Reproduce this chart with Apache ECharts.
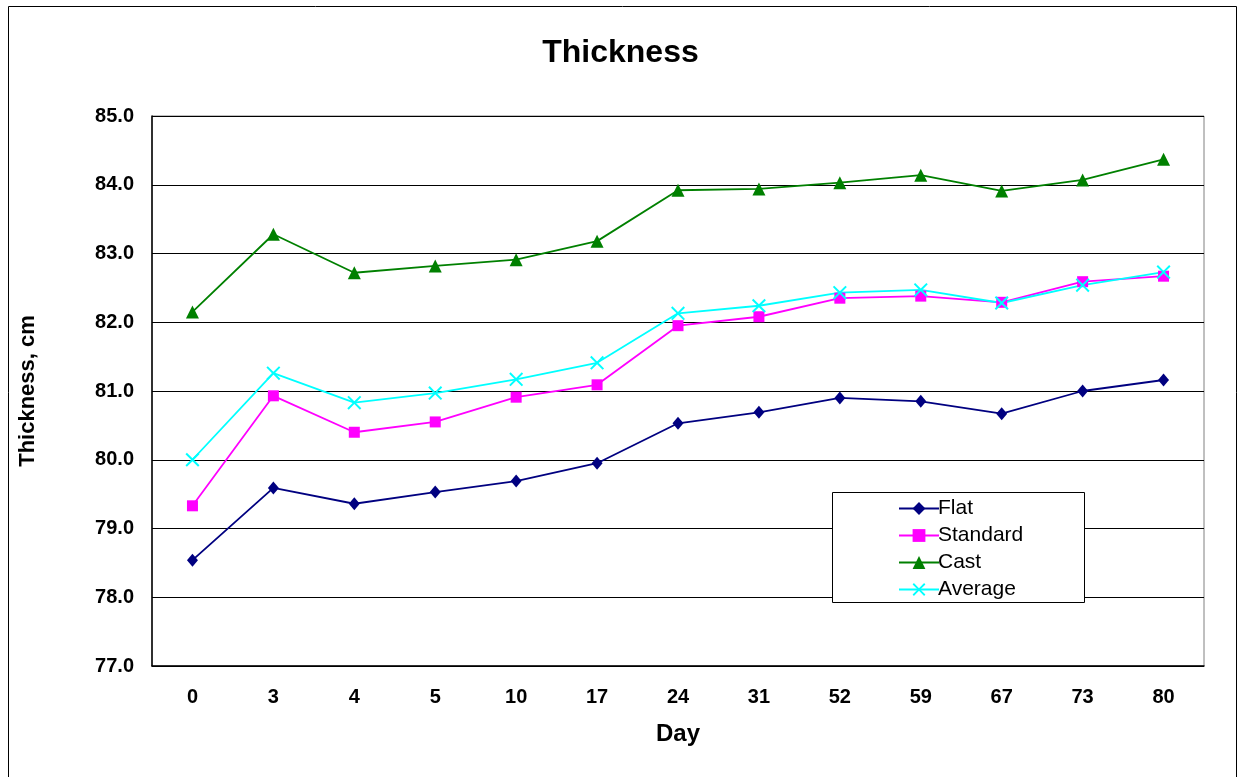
<!DOCTYPE html>
<html>
<head>
<meta charset="utf-8">
<script src="https://cdn.jsdelivr.net/npm/echarts@6/dist/echarts.min.js"></script>
<style>
html,body{margin:0;padding:0;background:#fff;}
#chart{width:1241px;height:777px;}
</style>
</head>
<body>
<div id="chart"></div>
<script>
const days = ['0','3','4','5','10','17','24','31','52','59','67','73','80'];
const flat = [78.54,79.59,79.36,79.53,79.69,79.95,80.53,80.69,80.90,80.85,80.67,81.00,81.16];
const standard = [79.33,80.93,80.40,80.55,80.91,81.09,81.95,82.08,82.35,82.38,82.29,82.59,82.67];
const cast = [82.15,83.28,82.72,82.82,82.91,83.18,83.92,83.94,84.03,84.14,83.91,84.07,84.37];
const average = [80.00,81.26,80.83,80.97,81.17,81.41,82.13,82.24,82.43,82.47,82.28,82.54,82.73];

const FONT = '"Liberation Sans", Arial, sans-serif';
const crossPath = 'path://M0,1L1,0L5,4L9,0L10,1L6,5L10,9L9,10L5,6L1,10L0,9L4,5Z';

const chart = echarts.init(document.getElementById('chart'), null, {renderer:'canvas'});
function mk(name, data, color, symbol, size) {
  return {
    name, type:'line', data, symbol, symbolSize:size, showSymbol:true,
    lineStyle:{color, width:1.8}, itemStyle:{color}, animation:false,
    emphasis:{disabled:true}
  };
}
chart.setOption({
  animation:false,
  backgroundColor:'#fff',
  textStyle:{fontFamily:FONT},
  title:{text:'Thickness', left:'center', top:32, textStyle:{fontFamily:FONT, fontSize:32, fontWeight:'bold', color:'#000'}},
  graphic:[
    {type:'rect', shape:{x:8.5,y:6.5,width:1228,height:790}, style:{fill:'none', stroke:'#000', lineWidth:1}, z:-1},
    {type:'rect', shape:{x:832.5,y:492.5,width:252,height:110}, style:{fill:'#fff', stroke:'#000', lineWidth:1}, z:10}
  ],
  legend:{
    orient:'vertical', left:893, top:493, itemWidth:40, itemHeight:16, itemGap:6, z:20,
    textStyle:{fontFamily:FONT, fontSize:21, color:'#000', padding:[0,0,0,-6]},
    data:['Flat','Standard','Cast','Average']
  },
  grid:{left:152, right:37, top:116, bottom:111, show:true, borderColor:'#808080', borderWidth:1, backgroundColor:'transparent'},
  xAxis:{
    type:'category', data:days, boundaryGap:true,
    name:'Day', nameLocation:'middle', nameGap:56,
    nameTextStyle:{fontFamily:FONT, fontSize:24, fontWeight:'bold', color:'#000'},
    axisLine:{lineStyle:{color:'#000', width:1.5}},
    axisTick:{inside:true, length:7, lineStyle:{color:'#000'}},
    axisLabel:{fontFamily:FONT, fontSize:20, fontWeight:'bold', color:'#000', margin:21},
    splitLine:{show:false}
  },
  yAxis:{
    type:'value', min:77, max:85, interval:1,
    name:'Thickness, cm', nameLocation:'middle', nameGap:113,
    nameTextStyle:{fontFamily:FONT, fontSize:22, fontWeight:'bold', color:'#000'},
    axisLine:{show:true, lineStyle:{color:'#000', width:1.5}},
    axisTick:{show:true, inside:true, length:7, lineStyle:{color:'#000'}},
    axisLabel:{fontFamily:FONT, fontSize:20, fontWeight:'bold', color:'#000', margin:18, formatter:v=>v.toFixed(1)},
    splitLine:{show:true, lineStyle:{color:'#000', width:1}}
  },
  series:[
    mk('Flat', flat, '#000080', 'diamond', [11,13]),
    mk('Standard', standard, '#FF00FF', 'rect', 11),
    mk('Cast', cast, '#008000', 'triangle', 13),
    mk('Average', average, '#00FFFF', crossPath, 14)
  ]
});
</script>
</body>
</html>
